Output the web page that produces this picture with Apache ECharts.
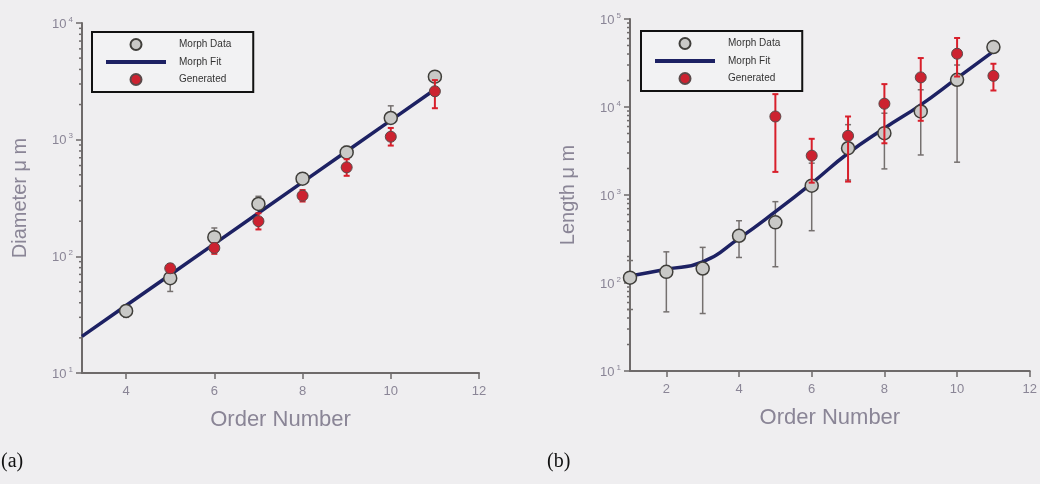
<!DOCTYPE html>
<html>
<head>
<meta charset="utf-8">
<script src="https://cdn.jsdelivr.net/npm/echarts@6/dist/echarts.min.js"></script>
<style>
  html, body { margin: 0; padding: 0; background: #efeef0; }
  #chart { width: 1040px; height: 484px; }
</style>
</head>
<body>
<div id="chart"></div>
<script>
// (a) diameter vs order
var aX = [4, 5, 6, 7, 8, 9, 10, 11];
var aMorph = [34, 65, 146, 281, 463, 778, 1534, 3470];
var aMorphLo = [30, 50, 132, 255, 425, 715, 1380, 3250];
var aMorphHi = [37, 76, 175, 327, 518, 877, 1950, 3850];
var aGenX = [5, 6, 7, 8, 9, 10, 11];
var aGen = [79, 118, 200, 331, 579, 1060, 2600];
var aGenLo = [72, 105, 170, 295, 490, 890, 1860];
var aGenHi = [86, 130, 234, 370, 680, 1260, 3240];
var aFitX = [3, 4, 5, 6, 7, 8, 9, 10, 11];
var aFit = [20.6, 37.9, 69.6, 128, 235, 433, 796, 1463, 2690];

// (b) length vs order
var bX = [1, 2, 3, 4, 5, 6, 7, 8, 9, 10, 11];
var bMorph = [115, 134, 146, 344, 489, 1276, 3400, 5040, 8890, 20370, 48000];
var bMorphLo = [50, 47, 45, 195, 153, 393, 1480, 1980, 2850, 2360, 45000];
var bMorphHi = [180, 226, 254, 510, 840, 2300, 6300, 8500, 15700, 30000, 52000];
var bGenX = [5, 6, 7, 8, 9, 10, 11];
var bGen = [7800, 2800, 4700, 10900, 21700, 40300, 22600];
var bGenLo = [1830, 1380, 1420, 3870, 6970, 22200, 15400];
var bGenHi = [14000, 4350, 7800, 18200, 36000, 60800, 31000];
var bFit = [120, 143, 174, 321, 646, 1357, 2980, 5740, 10580, 21300, 42800];

var xTicksA = [4, 6, 8, 10, 12];
var xTicksB = [2, 4, 6, 8, 10, 12];

var txtColor = '#8a8596';
var axisColor = '#6e6a6a';
var fitColor = '#1d2163';
var grayFill = '#c9c9c7';
var redFill = '#cc2230';
var font = 'Liberation Sans';

var chart = echarts.init(document.getElementById('chart'));

function pairs(xs, ys) {
  return xs.map(function (x, i) { return [x, ys[i]]; });
}
function bars(xs, lo, hi) {
  return xs.map(function (x, i) { return [x, lo[i], hi[i]]; });
}

// minor ticks of a log axis (2..9 in every decade)
function minorVals(lo, hi) {
  var out = [];
  for (var d = lo; d < hi; d *= 10) {
    for (var k = 2; k <= 9; k++) out.push(d * k);
  }
  return out;
}

function errBar(color, width) {
  return function (params, api) {
    var top = api.coord([api.value(0), api.value(2)]);
    var bot = api.coord([api.value(0), api.value(1)]);
    var c = 3;
    var st = { stroke: color, lineWidth: width };
    return {
      type: 'group',
      children: [
        { type: 'line', shape: { x1: top[0], y1: top[1], x2: bot[0], y2: bot[1] }, style: st },
        { type: 'line', shape: { x1: top[0] - c, y1: top[1], x2: top[0] + c, y2: top[1] }, style: st },
        { type: 'line', shape: { x1: bot[0] - c, y1: bot[1], x2: bot[0] + c, y2: bot[1] }, style: st }
      ]
    };
  };
}

function minorTicks(xMin) {
  return function (params, api) {
    var p = api.coord([xMin, api.value(0)]);
    return {
      type: 'line',
      shape: { x1: p[0] - 3, y1: p[1], x2: p[0], y2: p[1] },
      style: { stroke: axisColor, lineWidth: 1.5 }
    };
  };
}

function xAxis(idx, min, ticks) {
  return {
    type: 'value', gridIndex: idx, min: min, max: 12,
    name: 'Order Number', nameLocation: 'middle', nameGap: 36,
    nameTextStyle: { color: txtColor, fontSize: 22, fontFamily: font },
    axisLine: { lineStyle: { color: axisColor, width: 2 } },
    axisTick: { customValues: ticks, length: 6, lineStyle: { color: axisColor, width: 1.5 } },
    axisLabel: { customValues: ticks, color: txtColor, fontSize: 13, fontFamily: font, margin: 12 },
    splitLine: { show: false }
  };
}

function yAxis(idx, max, name) {
  return {
    type: 'log', logBase: 10, gridIndex: idx, min: 10, max: max,
    name: name, nameLocation: 'middle', nameGap: 52,
    nameTextStyle: { color: txtColor, fontSize: 20, fontFamily: font },
    axisLine: { lineStyle: { color: axisColor, width: 2 } },
    axisTick: { length: 6, lineStyle: { color: axisColor, width: 1.5 } },
    axisLabel: {
      margin: 9,
      formatter: function (v) {
        return '{b|10}{s|' + Math.round(Math.log10(v)) + '}';
      },
      rich: {
        b: { color: txtColor, fontSize: 13, fontFamily: font, verticalAlign: 'bottom' },
        s: { color: txtColor, fontSize: 8, fontFamily: font, verticalAlign: 'bottom', padding: [0, 0, 7, 2] }
      }
    },
    splitLine: { show: false }
  };
}

function legend(left, top) {
  return {
    left: left, top: top, orient: 'vertical',
    data: [
      'Morph Data',
      { name: 'Morph Fit', itemStyle: { opacity: 0 }, lineStyle: { width: 4, color: fitColor } },
      'Generated'
    ],
    itemWidth: 60, itemHeight: 11, itemGap: 6,
    padding: [6, 22, 6, 12],
    borderColor: '#111', borderWidth: 2, backgroundColor: '#f2f2f3',
    textStyle: { color: '#333', fontSize: 10, fontFamily: font, padding: [0, 0, 0, 8] },
    selectedMode: false
  };
}

function seriesFor(idx, fitData, smooth, morph, morphBars, gen, genBars, xMin, yMax) {
  return [
    { type: 'custom', xAxisIndex: idx, yAxisIndex: idx, renderItem: minorTicks(xMin),
      data: minorVals(10, yMax).map(function (v) { return [v]; }), encode: { y: 0 }, silent: true, z: 1 },
    { type: 'custom', xAxisIndex: idx, yAxisIndex: idx, renderItem: errBar('#75706f', 1.5),
      data: morphBars, encode: { x: 0, y: [1, 2] }, silent: true, z: 2 },
    { name: 'Morph Fit', type: 'line', xAxisIndex: idx, yAxisIndex: idx, data: fitData,
      smooth: smooth, symbol: 'none', lineStyle: { color: fitColor, width: 3.5 },
      itemStyle: { color: fitColor }, z: 3 },
    { name: 'Morph Data', type: 'scatter', xAxisIndex: idx, yAxisIndex: idx, data: morph,
      symbolSize: 13, itemStyle: { color: grayFill, borderColor: '#3f3e3a', borderWidth: 1.5, opacity: 1 }, z: 4 },
    { type: 'custom', xAxisIndex: idx, yAxisIndex: idx, renderItem: errBar('#d81f2b', 2),
      data: genBars, encode: { x: 0, y: [1, 2] }, silent: true, z: 5 },
    { name: 'Generated', type: 'scatter', xAxisIndex: idx, yAxisIndex: idx, data: gen,
      symbolSize: 11, itemStyle: { color: redFill, borderColor: '#5a4a4a', borderWidth: 1, opacity: 1 }, z: 6 }
  ];
}

var option = {
  backgroundColor: '#efeef0',
  animation: false,
  grid: [
    { left: 82, top: 23, width: 397, height: 350 },
    { left: 630, top: 19, width: 400, height: 352 }
  ],
  xAxis: [xAxis(0, 3, xTicksA), xAxis(1, 1, xTicksB)],
  yAxis: [yAxis(0, 10000, 'Diameter μ m'), yAxis(1, 100000, 'Length μ m')],
  legend: [legend(92, 32), legend(641, 31)],
  graphic: [
    { type: 'text', left: 1, top: 452, style: { text: '(a)', fontSize: 20, fontFamily: 'Liberation Serif', fill: '#111' } },
    { type: 'text', left: 547, top: 452, style: { text: '(b)', fontSize: 20, fontFamily: 'Liberation Serif', fill: '#111' } }
  ],
  series: [].concat(
    seriesFor(0, pairs(aFitX, aFit), false, pairs(aX, aMorph), bars(aX, aMorphLo, aMorphHi),
      pairs(aGenX, aGen), bars(aGenX, aGenLo, aGenHi), 3, 10000),
    seriesFor(1, pairs(bX, bFit), true, pairs(bX, bMorph), bars(bX, bMorphLo, bMorphHi),
      pairs(bGenX, bGen), bars(bGenX, bGenLo, bGenHi), 1, 100000)
  )
};

chart.setOption(option);
</script>
</body>
</html>
